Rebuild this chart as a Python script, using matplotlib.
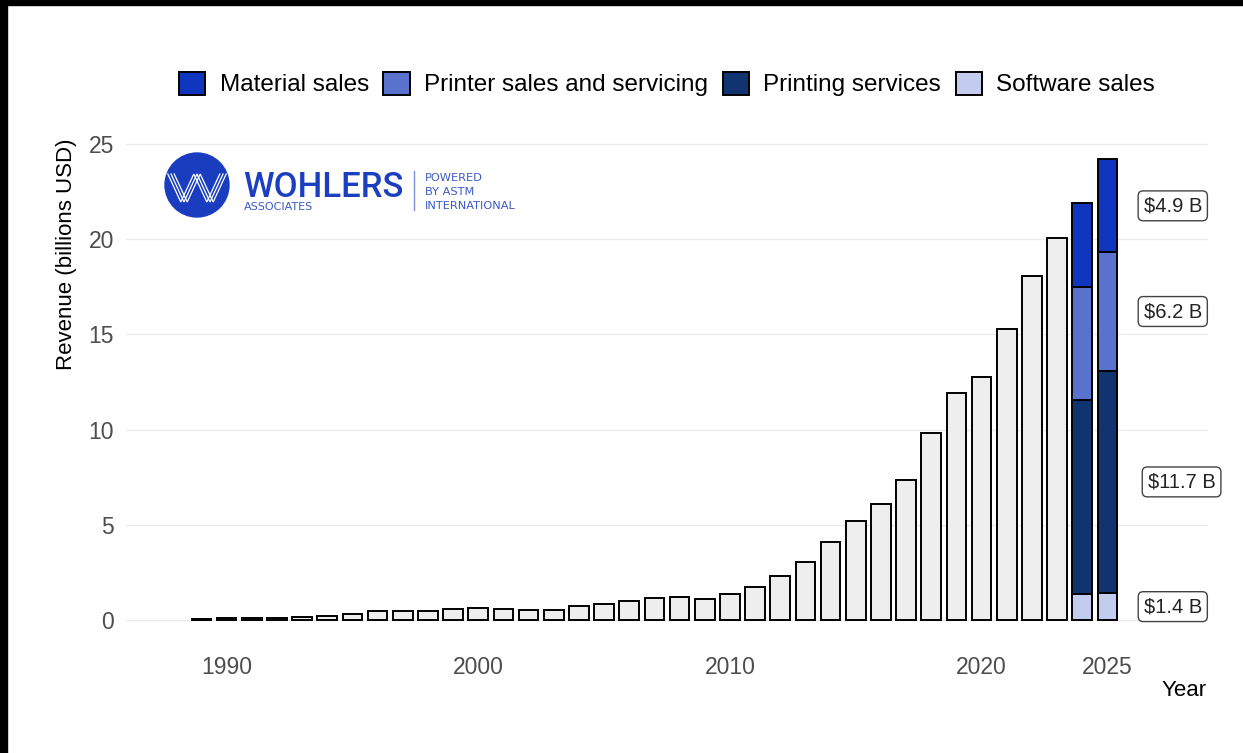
import matplotlib
matplotlib.use('Agg')
import matplotlib.pyplot as plt
import numpy as np
from matplotlib.patches import Circle, Rectangle, Patch

# ---------------- data ----------------
years_hist = list(range(1989, 2024))
revenue_hist = [0.07, 0.08, 0.09, 0.10, 0.13, 0.20, 0.33, 0.47, 0.48, 0.48, 0.56,
                0.65, 0.56, 0.52, 0.52, 0.73, 0.84, 1.01, 1.17, 1.22, 1.12,
                1.37, 1.73, 2.31, 3.07, 4.11, 5.18, 6.09, 7.35, 9.80, 11.90,
                12.78, 15.27, 18.07, 20.08]

years_seg = [2024, 2025]
software_sales = [1.35, 1.4]
printing_services = [10.2, 11.7]
printer_sales = [5.95, 6.2]
material_sales = [4.38, 4.9]

segment_names = ['Material sales', 'Printer sales and servicing',
                 'Printing services', 'Software sales']
segment_colors = ['#1035BE', '#5872CD', '#0F3470', '#C3CCEE']
label_texts = [r'\$4.9 B', r'\$6.2 B', r'\$11.7 B', r'\$1.4 B']

xticks = [1990, 2000, 2010, 2020, 2025]
yticks = [0, 5, 10, 15, 20, 25]

# ---------------- figure ----------------
W, H = 1243, 753
plt.rcParams['font.family'] = ['Liberation Sans', 'DejaVu Sans']
fig = plt.figure(figsize=(W / 100, H / 100), dpi=100)
fig.patch.set_facecolor('white')

ax = fig.add_axes([126 / W, 110 / H, 1082 / W, 508 / H])
bw = 0.78
lw = 1.4
ax.bar(years_hist, revenue_hist, width=bw, color='#EEEEEE', edgecolor='black',
       linewidth=lw, zorder=3)

soft = np.array(software_sales)
prs = np.array(printing_services)
prt = np.array(printer_sales)
mat = np.array(material_sales)
ax.bar(years_seg, soft, width=bw, color=segment_colors[3],
       edgecolor='black', linewidth=lw, zorder=3)
ax.bar(years_seg, prs, bottom=soft, width=bw, color=segment_colors[2],
       edgecolor='black', linewidth=lw, zorder=3)
ax.bar(years_seg, prt, bottom=soft + prs, width=bw, color=segment_colors[1],
       edgecolor='black', linewidth=lw, zorder=3)
ax.bar(years_seg, mat, bottom=soft + prs + prt, width=bw,
       color=segment_colors[0], edgecolor='black', linewidth=lw, zorder=3)

# labels at midpoints of the 2025 segments
mids = [soft[1] + prs[1] + prt[1] + mat[1] / 2,
        soft[1] + prs[1] + prt[1] / 2,
        soft[1] + prs[1] / 2,
        soft[1] / 2]
label_x = [2027.6, 2027.6, 2027.95, 2027.6]
for t, yv, xv in zip(label_texts, mids, label_x):
    ax.text(xv, yv, t, ha='center', va='center', fontsize=14.5, color='#222222',
            zorder=5,
            bbox=dict(boxstyle='round,pad=0.27,rounding_size=0.25', fc='white',
                      ec='#444444', lw=1.0))

ax.set_xlim(1986.0, 2029.0)
ax.set_ylim(-1.21, 25.47)
ax.set_xticks(xticks)
ax.set_yticks(yticks)
ax.tick_params(axis='both', length=0, labelsize=16.5, colors='#4D4D4D')
ax.tick_params(axis='y', pad=8.6)
ax.tick_params(axis='x', pad=9.4)
for s in ax.spines.values():
    s.set_visible(False)
ax.yaxis.grid(True, color='#EBEBEB', linewidth=1.0, zorder=0)
ax.xaxis.grid(False)
ax.set_axisbelow(True)

ax.set_ylabel('Revenue (billions USD)', fontsize=16, color='black')
ax.yaxis.set_label_coords(-0.045, 0.765)
fig.text(1207 / W, 1 - 691 / H, 'Year', ha='right', va='center', fontsize=16,
         color='black')

# legend
handles = [Patch(facecolor=c, edgecolor='black', linewidth=lw) for c in segment_colors]
fig.legend(handles, segment_names, ncol=4, loc='center',
           bbox_to_anchor=(667 / W, 1 - 84 / H), frameon=False, fontsize=17.5,
           handlelength=1.07, handleheight=1.1, handletextpad=0.6,
           columnspacing=0.6, borderaxespad=0, borderpad=0)

# ---------------- logo ----------------
lax = fig.add_axes([150 / W, 1 - 230 / H, 400 / W, 90 / H])
lax.set_xlim(150, 550)
lax.set_ylim(230, 140)
lax.axis('off')
lax.add_patch(Circle((197, 185), 32, color='#1A3DBF', clip_on=False))
for dx in (-3.2, 0, 3.2):
    lax.plot([171 + dx, 184 + dx, 197 + dx, 210 + dx, 223 + dx],
             [174, 202, 174, 202, 174], color='white', lw=0.9,
             solid_joinstyle='miter', clip_on=False)
lax.text(243, 197, 'WOHLERS', fontsize=25, family='Roboto', weight='medium',
         color='#1B3FBF', va='baseline', ha='left')
lax.text(244, 210, 'ASSOCIATES', fontsize=8, family='DejaVu Sans',
         color='#3B5AC6', va='baseline', ha='left')
lax.plot([414, 414], [171, 210], color='#7D90D9', lw=1)
for txt, yb in (('POWERED', 181), ('BY ASTM', 195), ('INTERNATIONAL', 209)):
    lax.text(425, yb, txt, fontsize=8.2, family='DejaVu Sans', color='#3B5AC6',
             va='baseline', ha='left')

# black frame strips (top and left) as in reference
fig.add_artist(Rectangle((0, 1 - 5 / H), 1, 5 / H, transform=fig.transFigure,
                         color='black', zorder=10))
fig.add_artist(Rectangle((0, 0), 7 / W, 1, transform=fig.transFigure,
                         color='black', zorder=10))

fig.savefig('out.png', dpi=100, facecolor='white')
